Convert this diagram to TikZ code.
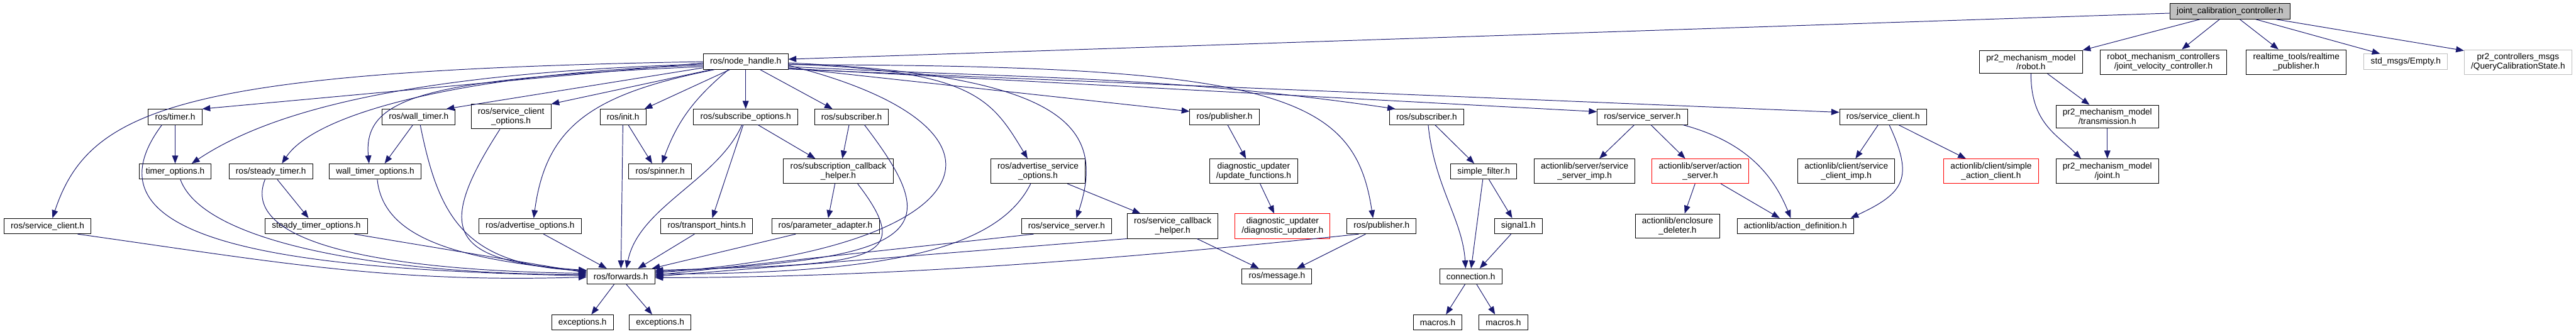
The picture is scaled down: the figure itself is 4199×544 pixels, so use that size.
\documentclass[tikz,border=0pt]{standalone}
\usepackage{fontspec}
\setmainfont{Liberation Sans}
\usepackage{tikz}
\usetikzlibrary{arrows.meta, positioning}
\usepackage{xcolor}
\definecolor{edgeblue}{HTML}{191970}
\definecolor{boxgrey}{HTML}{BFBFBF}
\tikzstyle{hdr} = [rectangle, draw=black, line width=1pt, fill=white, minimum height=25pt, inner xsep=11pt, inner ysep=6pt, align=center, font=\fontsize{14}{15}\selectfont]
\tikzstyle{missing} = [hdr, draw=red]
\tikzstyle{extern} = [hdr, draw=boxgrey]
\tikzstyle{mainfile} = [hdr, fill=boxgrey]
\tikzstyle{arrow} = [line width=1pt, draw=edgeblue, ->, >={Triangle[length=13pt,width=10pt]}]

\begin{document}
\begin{tikzpicture}[x=1pt, y=1pt]
        \useasboundingbox (0,0) rectangle (4199,-544);
        \node (jcc) [mainfile] at (3635,-18.5) {joint\_calibration\_controller.h};
        \node (nh) [hdr] at (1215.5,-100.5) {ros/node\_handle.h};
        \node (robot) [hdr] at (3310.5,-101) {pr2\_mechanism\_model\\/robot.h};
        \node (jvc) [hdr] at (3526.5,-101) {robot\_mechanism\_controllers\\/joint\_velocity\_controller.h};
        \node (rtpub) [hdr] at (3743,-101) {realtime\_tools/realtime\\\_publisher.h};
        \node (empty) [extern] at (3921.5,-100.5) {std\_msgs/Empty.h};
        \node (qcs) [extern] at (4104.5,-101) {pr2\_controllers\_msgs\\/QueryCalibrationState.h};

        \node (timer) [hdr] at (285.5,-190.5) {ros/timer.h};
        \node (walltimer) [hdr] at (682.5,-190.5) {ros/wall\_timer.h};
        \node (sco) [hdr] at (833,-190) {ros/service\_client\\\_options.h};
        \node (init) [hdr] at (1015.5,-190.5) {ros/init.h};
        \node (subopt) [hdr] at (1215.5,-190.5) {ros/subscribe\_options.h};
        \node (sub1) [hdr] at (1388,-190.5) {ros/subscriber.h};
        \node (pub1) [hdr] at (1996,-190.5) {ros/publisher.h};
        \node (sub2) [hdr] at (2325.5,-190.5) {ros/subscriber.h};
        \node (ss2) [hdr] at (2677,-190.5) {ros/service\_server.h};
        \node (sc2) [hdr] at (3069.5,-190.5) {ros/service\_client.h};
        \node (trans) [hdr] at (3435,-190) {pr2\_mechanism\_model\\/transmission.h};

        \node (timeropt) [hdr] at (285.5,-279.5) {timer\_options.h};
        \node (steady) [hdr] at (441.5,-279.5) {ros/steady\_timer.h};
        \node (wallopt) [hdr] at (611.5,-279.5) {wall\_timer\_options.h};
        \node (spinner) [hdr] at (1076,-279.5) {ros/spinner.h};
        \node (sch) [hdr] at (1366.5,-279) {ros/subscription\_callback\\\_helper.h};
        \node (aso) [hdr] at (1692,-279) {ros/advertise\_service\\\_options.h};
        \node (updfn) [hdr] at (2043.5,-279) {diagnostic\_updater\\/update\_functions.h};
        \node (sfilter) [hdr] at (2418.5,-279.5) {simple\_filter.h};
        \node (ssimp) [hdr] at (2583,-279) {actionlib/server/service\\\_server\_imp.h};
        \node (aserver) [missing] at (2771.5,-279) {actionlib/server/action\\\_server.h};
        \node (scimp) [hdr] at (3009.5,-279) {actionlib/client/service\\\_client\_imp.h};
        \node (sac) [missing] at (3245.5,-279) {actionlib/client/simple\\\_action\_client.h};
        \node (joint) [hdr] at (3435,-279) {pr2\_mechanism\_model\\/joint.h};

        \node (sc1) [hdr] at (77.5,-368.5) {ros/service\_client.h};
        \node (steadyopt) [hdr] at (515.5,-368.5) {steady\_timer\_options.h};
        \node (advopt) [hdr] at (864,-368.5) {ros/advertise\_options.h};
        \node (hints) [hdr] at (1152,-368.5) {ros/transport\_hints.h};
        \node (padapt) [hdr] at (1345.5,-368.5) {ros/parameter\_adapter.h};
        \node (ss1) [hdr] at (1738.5,-368.5) {ros/service\_server.h};
        \node (schelper) [hdr] at (1911.5,-368.5) {ros/service\_callback\\\_helper.h};
        \node (diag) [missing] at (2090.5,-368.5) {diagnostic\_updater\\/diagnostic\_updater.h};
        \node (pub2) [hdr] at (2252,-368.5) {ros/publisher.h};
        \node (sig1) [hdr] at (2475,-368.5) {signal1.h};
        \node (encl) [hdr] at (2734.5,-368.5) {actionlib/enclosure\\\_deleter.h};
        \node (adef) [hdr] at (2926.5,-368.5) {actionlib/action\_definition.h};

        \node (fwd) [hdr] at (1012,-450.5) {ros/forwards.h};
        \node (msg) [hdr] at (2081.5,-450.5) {ros/message.h};
        \node (conn) [hdr] at (2397.5,-450.5) {connection.h};

        \node (exc1) [hdr] at (949.5,-525.5) {exceptions.h};
        \node (exc2) [hdr] at (1076,-525.5) {exceptions.h};
        \node (mac1) [hdr] at (2343.5,-525.5) {macros.h};
        \node (mac2) [hdr] at (2450.5,-525.5) {macros.h};

        \draw [arrow] ([yshift=-3]jcc.west) -- ([yshift=4]nh.east);
        \draw [arrow] ([xshift=-49]jcc.south) -- (robot.north east);
        \draw [arrow] ([xshift=-17]jcc.south) -- ([xshift=30]jvc.north);
        \draw [arrow] ([xshift=16]jcc.south) -- ([xshift=-29]rtpub.north);
        \draw [arrow] ([xshift=42]jcc.south) -- ([xshift=-42]empty.north);
        \draw [arrow] ([xshift=75]jcc.south) -- ([yshift=-2]qcs.north west);

        \draw [arrow] ([xshift=27]robot.south) -- ([xshift=-29]trans.north);
        \draw [arrow] (robot.south) .. controls +(0,-80) and +(-40,40) .. ([xshift=-43]joint.north);
        \draw [arrow] (trans) -- (joint);

        \draw [arrow] (nh.west) .. controls +(-850,-15) and +(60,180) .. ([xshift=8]sc1.north);
        \draw [arrow] ([yshift=-2]nh.west) -- (timer.north east);
        \draw [arrow] ([yshift=-4]nh.west) .. controls +(-500,-15) and +(120,80) .. ([xshift=27]timeropt.north);
        \draw [arrow] ([yshift=-6]nh.west) .. controls +(-350,-10) and +(60,90) .. ([xshift=18]steady.north);
        \draw [arrow] ([yshift=-8]nh.west) .. controls +(-450,-20) and +(-10,110) .. ([xshift=-10]wallopt.north);
        \draw [arrow] ([yshift=-10]nh.west) -- ([xshift=45]walltimer.north);
        \draw [arrow] ([xshift=-56]nh.south) -- (sco.north east);
        \draw [arrow] ([xshift=-51]nh.south) .. controls +(-200,-40) and +(20,150) .. ([xshift=6]advopt.north);
        \draw [arrow] ([xshift=-26]nh.south) -- ([xshift=35]init.north);
        \draw [arrow] ([xshift=-28]nh.south) to[out=-140,in=70] ([xshift=3]spinner.north);
        \draw [arrow] (nh) -- (subopt);
        \draw [arrow] ([xshift=23.5]nh.south) -- ([xshift=-31]sub1.north);
        \draw [arrow] ([yshift=-6]nh.east) .. controls +(400,-100) and +(550,40) .. ([yshift=6]fwd.east);
        \draw [arrow] ([yshift=-4]nh.east) .. controls +(300,-10) and +(-60,100) .. ([xshift=-17]aso.north);
        \draw [arrow] ([yshift=-2]nh.east) .. controls +(450,-20) and +(50,150) .. ([xshift=16]ss1.north);
        \draw [arrow] ([yshift=-10]nh.east) -- ([yshift=9]pub1.west);
        \draw [arrow] ([yshift=-5]nh.east) .. controls +(800,0) and +(-30,200) .. ([xshift=-14]pub2.north);
        \draw [arrow] ([yshift=-8]nh.east) .. controls +(390,-20) and +(-380,55) .. ([xshift=10]sub2.north west);
        \draw [arrow] ([yshift=-11]nh.east) -- ([yshift=8.5]ss2.west);
        \draw [arrow] ([yshift=-12]nh.east) -- ([yshift=7.5]sc2.west);

        \draw [arrow] (timer) -- (timeropt);
        \draw [arrow] ([xshift=-9.5]walltimer.south) -- ([xshift=15.5]wallopt.north);
        \draw [arrow] ([xshift=10.5]steady.south) -- ([xshift=-12.5]steadyopt.north);
        \draw [arrow] ([xshift=8.5]init.south) -- ([xshift=-13]spinner.north);
        \draw [arrow] ([xshift=-4]subopt.south) -- ([xshift=9]hints.north);
        \draw [arrow] ([xshift=20]subopt.south) -- ([xshift=-37.5]sch.north);
        \draw [arrow] ([xshift=-4]sub1.south) -- ([xshift=6.5]sch.north);
        \draw [arrow] ([xshift=-5.5]sch.south) -- ([xshift=4.5]padapt.north);
        \draw [arrow] ([xshift=48]aso.south) -- ([xshift=-52.5]schelper.north);
        \draw [arrow] ([xshift=39.5]schelper.south) -- ([xshift=-29.5]msg.north);
        \draw [arrow] ([xshift=-26]pub2.south) -- ([xshift=32.5]msg.north);
        \draw [arrow] ([xshift=5]pub1.south) -- ([xshift=-12.5]updfn.north);
        \draw [arrow] ([xshift=10.5]updfn.south) -- ([xshift=-13.5]diag.north);

        \draw [arrow] ([xshift=49]sc1.south) .. controls +(320,-45) and +(-325,-10) .. ([yshift=-1]fwd.west);
        \draw [arrow] ([xshift=-21.5]timer.south) .. controls +(-150,-200) and +(-450,10) .. ([yshift=1]fwd.west);
        \draw [arrow] ([xshift=8.5]timeropt.south) .. controls +(40,-110) and +(-300,0) .. ([yshift=3]fwd.west);
        \draw [arrow] ([xshift=-9.5]steady.south) .. controls +(-40,-100) and +(-350,5) .. ([yshift=5]fwd.west);
        \draw [arrow] ([xshift=62]steadyopt.south) -- ([yshift=6]fwd.west);
        \draw [arrow] ([xshift=3.5]wallopt.south) .. controls +(10,-100) and +(-200,20) .. ([yshift=8]fwd.west);
        \draw [arrow] ([xshift=2.5]walltimer.south) .. controls +(30,-150) and +(-200,10) .. ([yshift=9]fwd.west);
        \draw [arrow] ([xshift=-18]sco.south) .. controls +(-110,-170) and +(-220,15) .. ([yshift=10]fwd.west);
        \draw [arrow] ([xshift=22]advopt.south) -- ([xshift=-23]fwd.north);
        \draw [arrow] (init) -- (fwd);
        \draw [arrow] ([xshift=-6]subopt.south) .. controls +(-40,-90) and +(20,100) .. ([xshift=9]fwd.north);
        \draw [arrow] ([xshift=-20]hints.south) -- ([xshift=28]fwd.north);
        \draw [arrow] ([xshift=-48.5]padapt.south) -- ([xshift=-5]fwd.north east);
        \draw [arrow] ([xshift=31.5]sch.south) .. controls +(100,-130) and +(350,10) .. ([yshift=10]fwd.east);
        \draw [arrow] ([xshift=21]sub1.south) .. controls +(130,-170) and +(450,20) .. ([yshift=8]fwd.east);
        \draw [arrow] ([xshift=-12]aso.south) .. controls +(-50,-100) and +(400,0) .. ([yshift=4]fwd.east);
        \draw [arrow] ([xshift=-53.5]ss1.south) -- ([yshift=2]fwd.east);
        \draw [arrow] (schelper.south west) -- (fwd.east);
        \draw [arrow] ([xshift=-37]pub2.south) .. controls +(-380,-40) and +(380,0) .. ([yshift=-2]fwd.east);
        \draw [arrow] ([xshift=-11]fwd.south) -- ([xshift=14.5]exc1.north);
        \draw [arrow] ([xshift=9]fwd.south) -- ([xshift=-13]exc2.north);

        \draw [arrow] ([xshift=2.5]sub2.south) .. controls +(10,-100) and +(-5,80) .. ([xshift=-8.5]conn.north);
        \draw [arrow] ([xshift=13.5]sub2.south) -- ([xshift=-15.5]sfilter.north);
        \draw [arrow] ([xshift=-1.5]sfilter.south) -- ([xshift=0.5]conn.north);
        \draw [arrow] ([xshift=8.5]sfilter.south) -- ([xshift=-10]sig1.north);
        \draw [arrow] ([xshift=-12]sig1.south) -- ([xshift=14.5]conn.north);
        \draw [arrow] ([xshift=-9.5]conn.south) -- ([xshift=13.5]mac1.north);
        \draw [arrow] ([xshift=9.5]conn.south) -- ([xshift=-13.5]mac2.north);

        \draw [arrow] ([xshift=-13]ss2.south) -- ([xshift=24]ssimp.north);
        \draw [arrow] ([xshift=14]ss2.south) -- ([xshift=-24.5]aserver.north);
        \draw [arrow] ([xshift=66]ss2.south) to[out=-15,in=112] ([xshift=-7.5]adef.north);
        \draw [arrow] ([xshift=-8.5]aserver.south) -- ([xshift=11.5]encl.north);
        \draw [arrow] ([xshift=33.5]aserver.south) -- ([xshift=-25.5]adef.north);
        \draw [arrow] ([xshift=-8]sc2.south) -- ([xshift=15]scimp.north);
        \draw [arrow] ([xshift=10]sc2.south) to[out=-65,in=25,looseness=1.5] ([xshift=90]adef.north);
        \draw [arrow] ([xshift=25]sc2.south) -- ([xshift=-41]sac.north);
    \end{tikzpicture}
\end{document}
